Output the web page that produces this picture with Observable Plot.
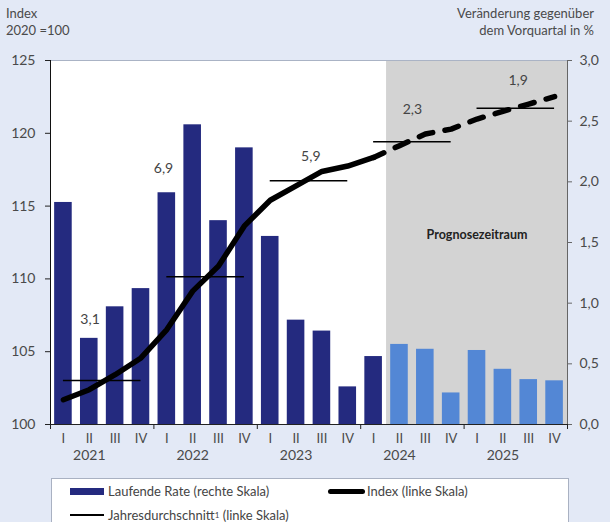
<!DOCTYPE html>
<html>
<head>
<meta charset="utf-8">
<script src="https://cdn.jsdelivr.net/npm/d3@7"></script>
<script src="https://cdn.jsdelivr.net/npm/@observablehq/plot@0.6"></script>
<style>
  html, body { margin: 0; padding: 0; background: #e3e9f6; }
  body { width: 610px; height: 522px; overflow: hidden; font-family: Lato, "Open Sans", sans-serif; color: #4a4a4a; position: relative; }
  #header { position: relative; height: 40px; font-size: 13px; line-height: 16.5px; }
  #hl { position: absolute; left: 6px; top: 5px; }
  #hr { position: absolute; right: 16px; top: 5px; text-align: right; }
  #chart svg { display: block; }
  #legend { position: absolute; left: 51px; top: 478px; width: 516px; height: 60px; background: #fff; border: 1px solid #a9b1c2; font-size: 13px; color: #444; }
  .item { position: absolute; display: flex; align-items: center; height: 16px; }
  .sw { display: inline-block; margin-right: 4px; }
</style>
</head>
<body>
<div id="header">
  <div id="hl">Index<br>2020 =100</div>
  <div id="hr">Veränderung gegenüber<br>dem Vorquartal in %</div>
</div>
<div id="chart"></div>
<div id="legend">
  <div class="item" style="left:18px; top:4px;"><span class="sw" style="width:34px;height:7px;background:#242a7f;"></span>Laufende Rate (rechte Skala)</div>
  <div class="item" style="left:276px; top:4px;"><span class="sw" style="width:37px;height:5px;background:#000;border-radius:3px;margin-right:2px;"></span>Index (linke Skala)</div>
  <div class="item" style="left:18px; top:28px;"><span class="sw" style="width:34px;height:1.5px;background:#000;"></span>Jahresdurchschnitt<sup style="font-size:8px;line-height:0;">1</sup>&nbsp;(linke Skala)</div>
</div>
<script>
// ---- data ----
const years = [2021, 2022, 2023, 2024, 2025];
const quarterNames = ["I", "II", "III", "IV"];
// Laufende Rate, % gegenüber Vorquartal (rechte Skala)
const rate = [1.83, 0.71, 0.97, 1.12, 1.91, 2.47, 1.68, 2.28, 1.55, 0.86, 0.77, 0.31, 0.56, 0.66, 0.62, 0.26, 0.61, 0.455, 0.37, 0.36];
// Index 2020 = 100 (linke Skala)
const indexValues = [101.70, 102.39, 103.42, 104.57, 106.52, 109.16, 110.88, 113.64, 115.40, 116.39, 117.38, 117.75, 118.34, 119.15, 119.95, 120.29, 120.98, 121.51, 122.01, 122.52];
// Jahresdurchschnitt (linke Skala)
const annualAverage = [103.03, 110.15, 116.74, 119.42, 121.72];
// Veränderung des Jahresdurchschnitts in %
const annualChange = ["3,1", "6,9", "5,9", "2,3", "1,9"];
const forecastStartQuarter = 13; // 2024 Q2
const leftTicks = [100, 105, 110, 115, 120, 125];
const rightTicks = [0, 0.5, 1.0, 1.5, 2.0, 2.5, 3.0];

// ---- layout (annotation anchors in data units) ----
const changeLabelAnchor = [[1.53, 107.2], [4.37, 117.55], [10.07, 118.43], [14.0, 121.65], [18.09, 123.62]];

const toLeft = v => 100 + v * 25 / 3;
const rows = rate.map((r, i) => ({i, q: i % 4, rate: r, index: indexValues[i], forecast: i >= forecastStartQuarter}));
const yearRows = years.map((y, k) => ({year: y, k, avg: annualAverage[k], change: annualChange[k], lx: changeLabelAnchor[k][0], ly: changeLabelAnchor[k][1]}));
const nQ = rate.length;

const chart = Plot.plot({
  width: 610, height: 430,
  marginTop: 20, marginLeft: 50, marginRight: 43, marginBottom: 46,
  x: {domain: [0, nQ], axis: null},
  y: {domain: [100, 125], axis: null},
  style: {fontFamily: "Lato, 'Open Sans', sans-serif", fontSize: "14px", color: "#222", background: "transparent"},
  marks: [
    Plot.frame({fill: "white", stroke: "none"}),
    Plot.rect([{s: forecastStartQuarter, e: nQ}], {x1: "s", x2: "e", y1: 100, y2: 125, fill: "#d3d3d3"}),
    Plot.rect(rows.filter(d => !d.forecast), {x1: d => d.i + 0.16, x2: d => d.i + 0.84, y1: 100, y2: d => toLeft(d.rate), fill: "#242a7f"}),
    Plot.rect(rows.filter(d => d.forecast), {x1: d => d.i + 0.16, x2: d => d.i + 0.84, y1: 100, y2: d => toLeft(d.rate), fill: "#5387d5"}),
    Plot.ruleY(yearRows, {x1: d => d.k * 4 + 0.5, x2: d => d.k * 4 + 3.5, y: "avg", stroke: "#000", strokeWidth: 1.5}),
    Plot.line(rows.filter(d => d.i < forecastStartQuarter), {x: d => d.i + 0.5, y: "index", stroke: "#000", strokeWidth: 5.5, strokeLinecap: "round", strokeLinejoin: "round"}),
    Plot.line(rows.filter(d => d.i >= forecastStartQuarter - 1), {x: d => d.i + 0.5, y: "index", stroke: "#000", strokeWidth: 5.5, strokeLinecap: "round", strokeLinejoin: "round", strokeDasharray: "14,12.5", strokeDashoffset: 2.75}),
    Plot.text(yearRows, {x: "lx", y: "ly", text: "change", fill: "#444", fontSize: 14}),
    Plot.text(["Prognosezeitraum"], {x: (forecastStartQuarter + nQ) / 2, y: 113, text: d => d, fill: "#222", fontSize: 12.5, fontWeight: "bold"}),
    Plot.ruleY([125], {stroke: "#aab3c5"}),
    Plot.ruleX([nQ], {stroke: "#666"}),
    Plot.ruleX([0], {stroke: "#111"}),
    Plot.ruleY([100], {stroke: "#222"}),
    Plot.axisY({ticks: leftTicks, tickSize: 5, tickPadding: 10, stroke: "#222", fill: "#4a4a4a", fontSize: 14, label: null}),
    Plot.axisY({anchor: "right", ticks: rightTicks.map(toLeft), tickFormat: d => ((d - 100) * 3 / 25).toFixed(1).replace(".", ","), tickSize: 4, tickPadding: 8, stroke: "#666", fill: "#4a4a4a", fontSize: 14, label: null}),
    Plot.axisX({ticks: d3.range(0, nQ + 1, 4), tickSize: 5, tickFormat: () => "", stroke: "#222", label: null}),
    Plot.text(rows, {x: d => d.i + 0.5, text: d => quarterNames[d.q], frameAnchor: "bottom", dy: 18, fill: "#4a4a4a", fontSize: 13}),
    Plot.text(yearRows, {x: d => d.k * 4 + 1.5, text: d => String(d.year), frameAnchor: "bottom", dy: 35, fill: "#4a4a4a", fontSize: 14})
  ]
});
document.getElementById("chart").appendChild(chart);
</script>
</body>
</html>
